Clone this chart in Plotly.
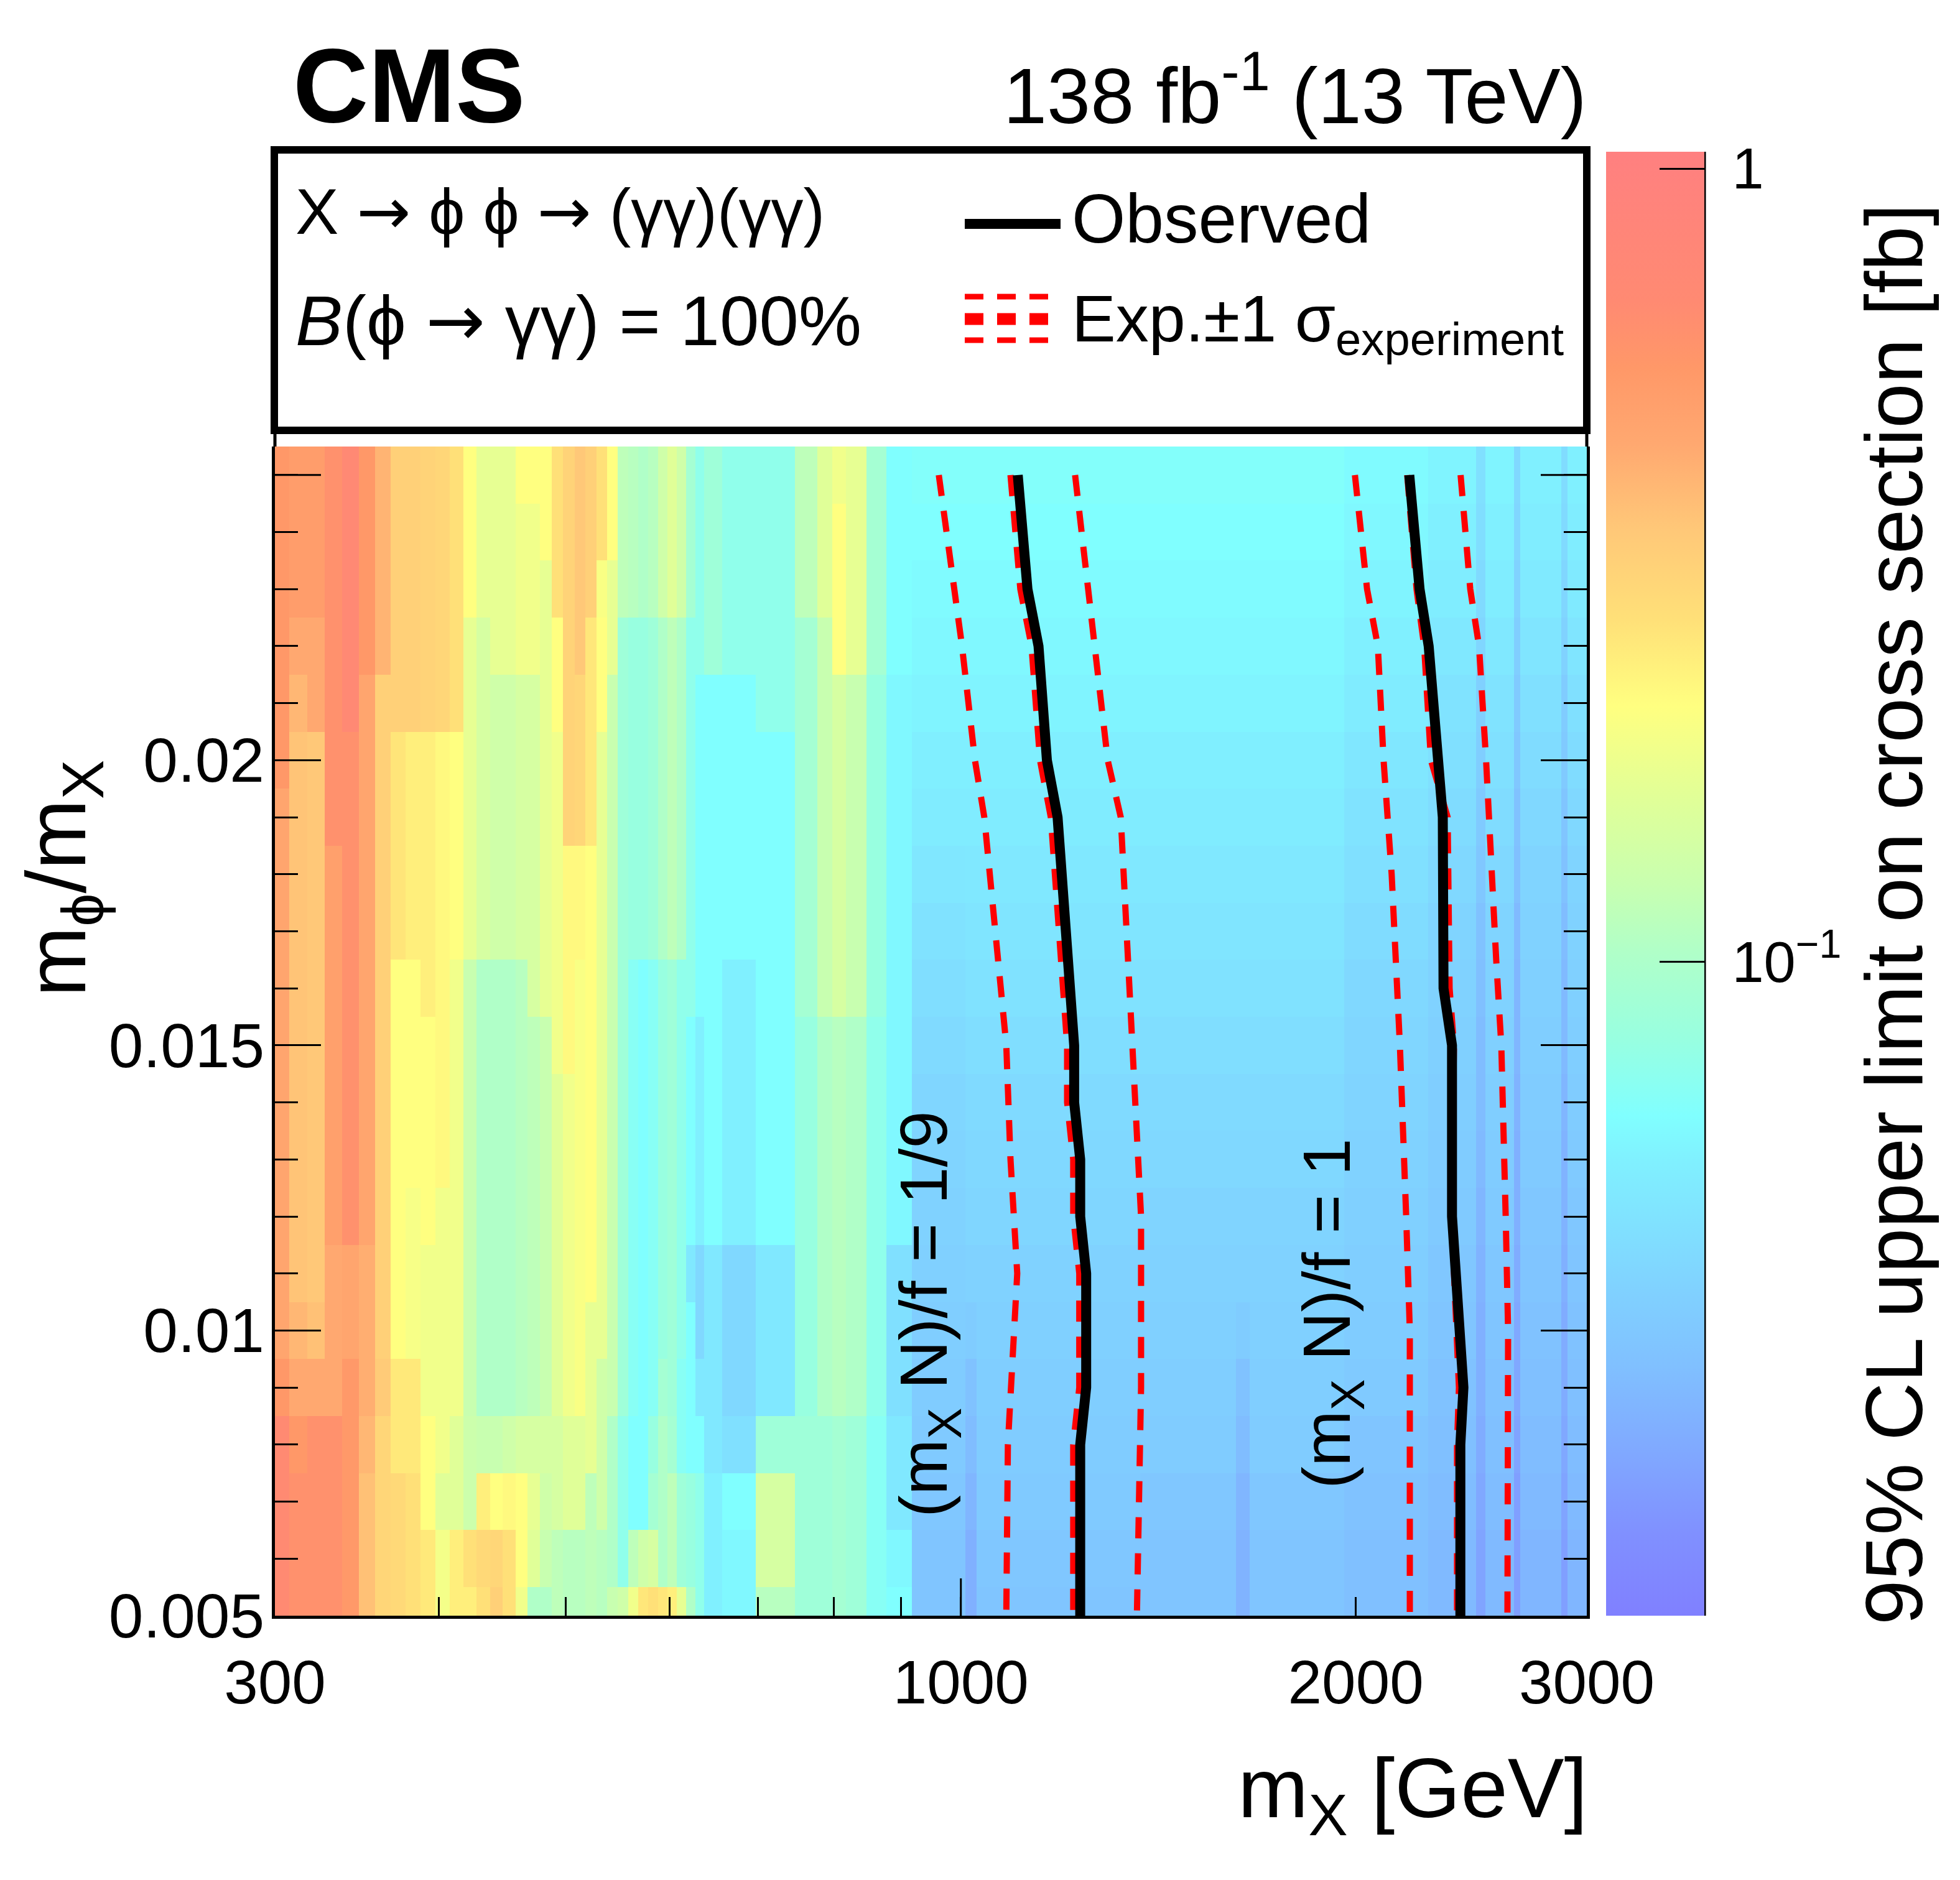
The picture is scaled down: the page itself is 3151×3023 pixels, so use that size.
import math
import plotly.graph_objects as go

# ---------------------------------------------------------------- layout (px)
W, H = 3151, 3023
X0, X1, Y0, Y1 = 442, 2551, 718, 2598   # plot area in pixels
FONT = "Liberation Sans, Arial, Helvetica, sans-serif"


def px(x):
    return (x - X0) / (X1 - X0)


def py(y):
    return (Y1 - y) / (Y1 - Y0)


# ---------------------------------------------------------------- data
# m_phi/m_X bin centres (rows), top row first in the column lists below
ratio_bins = [0.005, 0.006, 0.007, 0.008, 0.009, 0.010, 0.011, 0.012, 0.013, 0.014,
              0.015, 0.016, 0.017, 0.018, 0.019, 0.020, 0.021, 0.022, 0.023, 0.024, 0.025]

# m_X bin edges [GeV]
mx_edges = [300, 307.5, 317.5, 327.5, 337.5, 347.5, 357.5, 367.5, 377.5, 387.5, 397.5,
            407.5, 417.5, 427.5, 437.5, 447.5, 457.5, 467.5, 477.5, 487.5, 497.5,
            507.5, 517.5, 527.5, 537.5, 547.5, 557.5, 567.5, 577.5, 587.5, 597.5,
            607.5, 617.5, 627.5, 637.5, 657.5, 697.5, 747.5, 777.5, 797.5, 817.5,
            847.5, 877.5, 917.5, 1007.5, 1027.5, 1370, 1620, 1660, 1960, 2270, 2470,
            2510, 2640, 2670, 2870, 2900, 3000]

# 95% CL upper limit [fb], one list per m_X bin, rows from m_phi/m_X = 0.025 down to 0.005
limit_columns = [
    [0.56]*6 + [0.47]*10 + [0.56] + [0.68]*4,
    [0.52]*3 + [0.45, 0.40] + [0.36]*10 + [0.40, 0.45, 0.56] + [0.62]*3,
    [0.52]*3 + [0.45]*2 + [0.35]*10 + [0.37, 0.45] + [0.62]*4,
    [0.62]*7 + [0.50]*7 + [0.45]*3 + [0.62]*4,
    [0.72]*5 + [0.62]*9 + [0.47]*2 + [0.55]*5,
    [0.56]*4 + [0.47]*10 + [0.43]*3 + [0.40] + [0.37]*3,
    [0.41]*4 + [0.32]*12 + [0.34] + [0.30]*4,
    [0.32]*5 + [0.26]*4 + [0.21]*7 + [0.25]*2 + [0.29]*3,
    [0.32]*5 + [0.24]*4 + [0.21]*4 + [0.195]*3 + [0.25]*2 + [0.27]*3,
    [0.31]*5 + [0.24]*5 + [0.21]*4 + [0.185]*3 + [0.21]*2 + [0.25]*2,
    [0.30]*5 + [0.22]*8 + [0.185]*5 + [0.16] + [0.19]*2,
    [0.27]*5 + [0.21]*4 + [0.185]*8 + [0.16]*2 + [0.24]*2,
    [0.21]*3 + [0.17]*6 + [0.125]*8 + [0.13]*2 + [0.27] + [0.24],
    [0.17]*3 + [0.145]*6 + [0.103]*8 + [0.125] + [0.24] + [0.29] + [0.27],
    [0.17]*4 + [0.135]*5 + [0.103]*8 + [0.125] + [0.21] + [0.30] + [0.32],
    [0.17]*4 + [0.135]*5 + [0.103]*8 + [0.135] + [0.22] + [0.27] + [0.27],
    [0.21] + [0.185]*3 + [0.145]*5 + [0.11]*8 + [0.145] + [0.21] + [0.21] + [0.185],
    [0.21] + [0.185]*3 + [0.145]*6 + [0.115]*7 + [0.145] + [0.17] + [0.16] + [0.103],
    [0.21]*2 + [0.17]*8 + [0.125]*7 + [0.145] + [0.135] + [0.125] + [0.103],
    [0.27]*3 + [0.21]*2 + [0.185]*6 + [0.16]*6 + [0.145]*2 + [0.115]*2,
    [0.31]*7 + [0.22]*4 + [0.185]*6 + [0.16]*2 + [0.11]*2,
    [0.35]*4 + [0.30]*3 + [0.22]*2 + [0.20]*8 + [0.16]*2 + [0.11]*2,
    [0.32]*3 + [0.255]*4 + [0.21]*8 + [0.17]*3 + [0.115]*3,
    [0.27]*2 + [0.20] + [0.21]*2 + [0.17]*11 + [0.135]*3 + [0.11]*2,
    [0.21]*2 + [0.17]*2 + [0.125]*13 + [0.103]*3 + [0.125],
    [0.115]*3 + [0.086]*14 + [0.074]*3 + [0.135],
    [0.11]*3 + [0.08]*6 + [0.069]*8 + [0.064]*2 + [0.115] + [0.185],
    [0.103]*3 + [0.08]*6 + [0.064]*10 + [0.135] + [0.255],
    [0.11]*3 + [0.086]*6 + [0.069]*8 + [0.08] + [0.092] + [0.145] + [0.27],
    [0.135]*3 + [0.103]*6 + [0.08]*7 + [0.092] + [0.103]*3 + [0.255],
    [0.16]*3 + [0.115]*6 + [0.086]*8 + [0.092] + [0.115]*2 + [0.24],
    [0.135]*3 + [0.103]*6 + [0.074]*7 + [0.069]*2 + [0.086]*2 + [0.17],
    [0.092]*3 + [0.074]*7 + [0.064]*4 + [0.051] + [0.064]*3 + [0.08]*2 + [0.103],
    [0.074]*4 + [0.064]*6 + [0.056]*4 + [0.042]*2 + [0.051] + [0.064] + [0.074]*3,
    [0.086]*4 + [0.064]*10 + [0.051]*4 + [0.056]*3,
    [0.074]*4 + [0.064]*5 + [0.056]*5 + [0.042]*3 + [0.046] + [0.064] + [0.060]*2,
    [0.074]*5 + [0.064]*9 + [0.051]*3 + [0.086] + [0.145]*2 + [0.11],
    [0.115]*3 + [0.092]*7 + [0.08]*7 + [0.086]*4,
    [0.16]*3 + [0.125]*7 + [0.103]*7 + [0.086]*4,
    [0.185] + [0.21]*3 + [0.145]*6 + [0.11]*7 + [0.092]*4,
    [0.17]*4 + [0.125]*6 + [0.103]*7 + [0.086]*4,
    [0.092]*4 + [0.08]*6 + [0.074]*7 + [0.069]*4,
    [0.064]*4 + [0.060]*10 + [0.046]*3 + [0.051]*2 + [0.060] + [0.064],
    # 917.5 - 1007.5
    [0.066, 0.064, 0.062, 0.060, 0.058, 0.055, 0.053, 0.050, 0.047, 0.045, 0.043,
     0.041, 0.040, 0.039, 0.038, 0.037, 0.036, 0.035, 0.034, 0.033, 0.033],
    # 1007.5 - 1027.5
    [0.066, 0.064, 0.062, 0.060, 0.058, 0.055, 0.053, 0.051, 0.049, 0.047, 0.045,
     0.043, 0.042, 0.041, 0.039, 0.036, 0.032, 0.030, 0.028, 0.026, 0.026],
    # 1027.5 - 1370
    [0.066, 0.064, 0.062, 0.060, 0.058, 0.055, 0.053, 0.051, 0.049, 0.047, 0.045,
     0.043, 0.042, 0.041, 0.039, 0.038, 0.037, 0.036, 0.035, 0.034, 0.033],
    # 1370 - 1620
    [0.066, 0.064, 0.062, 0.060, 0.058, 0.055, 0.053, 0.051, 0.049, 0.047, 0.045,
     0.043, 0.042, 0.040, 0.039, 0.038, 0.037, 0.036, 0.034, 0.033, 0.033],
    # 1620 - 1660
    [0.066, 0.064, 0.062, 0.060, 0.058, 0.055, 0.053, 0.051, 0.049, 0.047, 0.045,
     0.043, 0.042, 0.040, 0.039, 0.036, 0.032, 0.030, 0.028, 0.027, 0.027],
    # 1660 - 1960
    [0.066, 0.064, 0.062, 0.060, 0.058, 0.055, 0.053, 0.051, 0.049, 0.047, 0.045,
     0.043, 0.042, 0.040, 0.039, 0.038, 0.037, 0.036, 0.034, 0.033, 0.033],
    # 1960 - 2270
    [0.062, 0.060, 0.058, 0.056, 0.053, 0.050, 0.048, 0.046, 0.044, 0.042, 0.041,
     0.040, 0.039, 0.038, 0.037, 0.036, 0.035, 0.033, 0.032, 0.031, 0.031],
    # 2270 - 2470
    [0.058, 0.056, 0.054, 0.051, 0.048, 0.046, 0.044, 0.042, 0.040, 0.039, 0.038,
     0.037, 0.036, 0.035, 0.034, 0.033, 0.032, 0.031, 0.030, 0.029, 0.029],
    # 2470 - 2510
    [0.046, 0.045, 0.043, 0.041, 0.038, 0.037, 0.035, 0.034, 0.032, 0.031, 0.030,
     0.030, 0.029, 0.028, 0.027, 0.026, 0.026, 0.025, 0.024, 0.023, 0.023],
    # 2510 - 2640
    [0.058, 0.056, 0.054, 0.051, 0.048, 0.046, 0.044, 0.042, 0.040, 0.039, 0.038,
     0.037, 0.036, 0.035, 0.034, 0.033, 0.032, 0.031, 0.030, 0.029, 0.029],
    # 2640 - 2670
    [0.042, 0.041, 0.039, 0.037, 0.035, 0.034, 0.032, 0.031, 0.029, 0.028, 0.028,
     0.027, 0.026, 0.026, 0.025, 0.024, 0.024, 0.023, 0.022, 0.022, 0.022],
    # 2670 - 2870
    [0.056, 0.054, 0.052, 0.049, 0.046, 0.044, 0.042, 0.040, 0.039, 0.038, 0.037,
     0.036, 0.035, 0.034, 0.033, 0.032, 0.031, 0.030, 0.029, 0.028, 0.028],
    # 2870 - 2900
    [0.044, 0.043, 0.041, 0.039, 0.036, 0.035, 0.033, 0.032, 0.030, 0.029, 0.029,
     0.028, 0.027, 0.027, 0.026, 0.025, 0.025, 0.024, 0.023, 0.022, 0.022],
    # 2900 - 3000
    [0.056, 0.054, 0.052, 0.049, 0.046, 0.044, 0.042, 0.040, 0.039, 0.038, 0.037,
     0.036, 0.035, 0.034, 0.033, 0.032, 0.031, 0.030, 0.029, 0.028, 0.028],
]

# exclusion contours (m_X [GeV], m_phi/m_X)
obs1_mx = [1105, 1124, 1146, 1163, 1185, 1220, 1220, 1233, 1233, 1246, 1246, 1233, 1233]
obs1_r = [0.025, 0.023, 0.022, 0.020, 0.019, 0.015, 0.014, 0.013, 0.012, 0.011, 0.009, 0.008, 0.005]
exp1_mx = [1091, 1110, 1132, 1149, 1171, 1205, 1205, 1218, 1218, 1231, 1231, 1218, 1218]
exp1_r = obs1_r
lo1_mx = [962, 987, 1002, 1025, 1042, 1083, 1091, 1104, 1090, 1086, 1083]
lo1_r = [0.025, 0.023, 0.022, 0.020, 0.019, 0.015, 0.013, 0.011, 0.009, 0.008, 0.005]
hi1_mx = [1222, 1250, 1282, 1294, 1324, 1350, 1372, 1372, 1362]
hi1_r = [0.025, 0.023, 0.021, 0.020, 0.019, 0.015, 0.012, 0.009, 0.005]

obs2_mx = [2197, 2237, 2273, 2330, 2333, 2368, 2368, 2416, 2403, 2403]
obs2_r = [0.025, 0.023, 0.022, 0.019, 0.016, 0.015, 0.012, 0.009, 0.008, 0.005]
exp2_mx = [2189, 2225, 2255, 2282, 2350, 2358, 2376, 2366, 2397, 2389, 2389]
exp2_r = [0.025, 0.023, 0.022, 0.020, 0.019, 0.016, 0.015, 0.012, 0.009, 0.008, 0.005]
lo2_mx = [1997, 2040, 2079, 2100, 2130, 2161, 2185, 2199, 2199]
lo2_r = [0.025, 0.023, 0.022, 0.020, 0.018, 0.015, 0.012, 0.010, 0.005]
hi2_mx = [2404, 2445, 2483, 2514, 2559, 2582, 2602, 2613, 2610]
hi2_r = [0.025, 0.023, 0.022, 0.020, 0.0165, 0.015, 0.012, 0.010, 0.005]

# axis ticks
x_tickvals = [300, 1000, 2000, 3000]
x_ticktext = ["300", "1000", "2000", "3000"]
x_minor = [400, 500, 600, 700, 800, 900]
y_tickvals = [0.005, 0.010, 0.015, 0.020]
y_ticktext = ["0.005", "0.01", "0.015", "0.02"]
y_minor = [0.006, 0.007, 0.008, 0.009, 0.011, 0.012, 0.013, 0.014, 0.016, 0.017,
           0.018, 0.019, 0.021, 0.022, 0.023, 0.024, 0.025]
y_long_unlabelled = [0.025]
cb_major = [0.1, 1.0]
cb_major_text = ["\u00a010<sup>\u22121</sup>", "\u00a01"]
cb_minor = [0.02, 0.03, 0.04, 0.05, 0.06, 0.07, 0.08, 0.09,
            0.2, 0.3, 0.4, 0.5, 0.6, 0.7, 0.8, 0.9]

# colour palette (value [fb] -> colour)
cs_values = [0.015, 0.019, 0.024, 0.031, 0.038, 0.046, 0.056, 0.064, 0.08, 0.103,
             0.125, 0.16, 0.21, 0.27, 0.35, 0.45, 0.56, 0.68, 1.05]
cs_colors = ["#8080FF", "#8090FF", "#80A8FF", "#80C0FF", "#80D0FF", "#80E0FF",
             "#80F0FF", "#80FFFF", "#98FFE0", "#B0FFC8", "#C8FFB0", "#E0FF98",
             "#FFFF80", "#FFE078", "#FFC878", "#FFA870", "#FF9868", "#FF8A72", "#FF8080"]

ZMIN, ZMAX = math.log10(0.015), math.log10(1.05)
CB_TOP, CB_LEN = 244, 2354          # colour bar pixel extent
CB_LEFT, CB_RIGHT = 2582, 2740

# ---------------------------------------------------------------- build
colorscale = [[(math.log10(v) - ZMIN) / (ZMAX - ZMIN), c] for v, c in zip(cs_values, cs_colors)]
colorscale[0][0] = 0.0
colorscale[-1][0] = 1.0

nrow = len(ratio_bins)
z = []
for irow in range(nrow):            # irow 0 -> 0.005 (bottom)
    src = nrow - 1 - irow
    z.append([math.log10(col[src]) for col in limit_columns])

fig = go.Figure()

fig.add_trace(go.Heatmap(
    x=mx_edges, y=ratio_bins, z=z,
    colorscale=colorscale, zmin=ZMIN, zmax=ZMAX, zsmooth=False,
    hoverinfo="skip",
    colorbar=dict(
        thickness=CB_RIGHT - CB_LEFT, thicknessmode="pixels",
        len=CB_LEN, lenmode="pixels",
        x=px(CB_LEFT), xanchor="left", y=0, yanchor="bottom",
        xpad=0, ypad=0, outlinewidth=0,
        tickmode="array", tickvals=[math.log10(v) for v in cb_major], ticktext=cb_major_text,
        ticks="inside", ticklen=72, tickwidth=3, tickcolor="black",
        tickfont=dict(size=92, family=FONT, color="black"),
    ),
))

dash_style = "34px,24px"
for xs, ys in [(lo1_mx, lo1_r), (hi1_mx, hi1_r), (exp1_mx, exp1_r),
               (lo2_mx, lo2_r), (hi2_mx, hi2_r), (exp2_mx, exp2_r)]:
    fig.add_trace(go.Scatter(x=xs, y=ys, mode="lines", hoverinfo="skip", showlegend=False,
                             line=dict(color="#FF0000", width=10, dash=dash_style)))
for xs, ys in [(obs1_mx, obs1_r), (obs2_mx, obs2_r)]:
    fig.add_trace(go.Scatter(x=xs, y=ys, mode="lines", hoverinfo="skip", showlegend=False,
                             line=dict(color="black", width=16)))

fig.update_layout(
    width=W, height=H,
    margin=dict(l=X0, r=W - X1, t=Y0, b=H - Y1, pad=0),
    paper_bgcolor="white", plot_bgcolor="white",
    showlegend=False,
    font=dict(family=FONT, color="black"),
    xaxis=dict(
        type="log", range=[math.log10(300), math.log10(3000)],
        showgrid=False, zeroline=False,
        showline=True, linecolor="black", linewidth=5, mirror=False,
        ticks="inside", ticklen=30, tickwidth=3, tickcolor="black",
        tickmode="array", tickvals=x_tickvals, ticktext=x_ticktext,
        tickfont=dict(size=98, family=FONT, color="black"),
        ticklabelstandoff=18,
        minor=dict(tickmode="array", tickvals=x_minor, ticks="inside", ticklen=30,
                   tickwidth=3, tickcolor="black", showgrid=False),
    ),
    yaxis=dict(
        range=[0.005, 0.0255],
        showgrid=False, zeroline=False,
        showline=True, linecolor="black", linewidth=5, mirror="ticks",
        ticks="inside", ticklen=74, tickwidth=3, tickcolor="black",
        tickmode="array", tickvals=y_tickvals, ticktext=y_ticktext,
        tickfont=dict(size=100, family=FONT, color="black"),
        ticklabelstandoff=-8,
        minor=dict(tickmode="array", tickvals=y_minor, ticks="inside", ticklen=37,
                   tickwidth=3, tickcolor="black", showgrid=False),
    ),
)

shapes = []
# frame continuation between heatmap top and legend box
shapes.append(dict(type="line", xref="paper", yref="paper", x0=px(X0), x1=px(X0),
                   y0=py(Y0), y1=py(690), line=dict(color="black", width=5)))
shapes.append(dict(type="line", xref="paper", yref="paper", x0=px(X1), x1=px(X1),
                   y0=py(Y0), y1=py(690), line=dict(color="black", width=5)))
# long tick at 1000 GeV
shapes.append(dict(type="line", xref="x", yref="paper", x0=1000, x1=1000,
                   y0=0, y1=py(Y1 - 60), line=dict(color="black", width=3)))
# long (unlabelled) y ticks on both sides
for v in y_long_unlabelled:
    shapes.append(dict(type="line", xref="paper", yref="y", x0=0, x1=px(X0 + 74),
                       y0=v, y1=v, line=dict(color="black", width=3)))
    shapes.append(dict(type="line", xref="paper", yref="y", x0=px(X1 - 74), x1=1,
                       y0=v, y1=v, line=dict(color="black", width=3)))
# legend box
shapes.append(dict(type="rect", xref="paper", yref="paper", x0=px(441), x1=px(2551),
                   y0=py(692), y1=py(241), line=dict(color="black", width=12),
                   fillcolor="white"))
# legend symbols
shapes.append(dict(type="line", xref="paper", yref="paper", x0=px(1551), x1=px(1705),
                   y0=py(360), y1=py(360), line=dict(color="black", width=16)))
for yy, ww in [(477, 9), (513, 19), (547, 9)]:
    shapes.append(dict(type="line", xref="paper", yref="paper", x0=px(1551), x1=px(1688),
                       y0=py(yy), y1=py(yy), line=dict(color="#FF0000", width=ww, dash="30px,22px")))
# colour bar right edge and minor ticks on the colour-bar log scale
shapes.append(dict(type="line", xref="paper", yref="paper", x0=px(CB_RIGHT), x1=px(CB_RIGHT),
                   y0=py(CB_TOP), y1=py(CB_TOP + CB_LEN), line=dict(color="black", width=5)))
for v in cb_minor:
    ypix = CB_TOP + (ZMAX - math.log10(v)) / (ZMAX - ZMIN) * CB_LEN
    shapes.append(dict(type="line", xref="paper", yref="paper", x0=px(CB_RIGHT - 35), x1=px(CB_RIGHT),
                       y0=py(ypix), y1=py(ypix), line=dict(color="black", width=3)))
fig.update_layout(shapes=shapes)


def ann(text, x, y, size, xanchor="left", yanchor="middle", angle=0):
    fig.add_annotation(text=text, xref="paper", yref="paper", x=px(x), y=py(y),
                       xanchor=xanchor, yanchor=yanchor, showarrow=False, textangle=angle,
                       font=dict(size=size, family=FONT, color="black"), borderpad=0)


ARR = '<span style="font-family:DejaVu Sans">\u2192</span>'
ann("<b>CMS</b>", 470, 138, 168)
ann("138 fb<sup>-1</sup> (13 TeV)", 2552, 145, 126, xanchor="right")
ann("X " + ARR + " \u03d5 \u03d5 " + ARR + " (\u03b3\u03b3)(\u03b3\u03b3)", 474, 340, 104)
ann("<i>B</i>(\u03d5 " + ARR + " \u03b3\u03b3) = 100%", 474, 515, 114)
ann("Observed", 1722, 352, 111)
ann("Exp.\u00b11 \u03c3<sub>experiment</sub>", 1722, 520, 106)
ann("m<sub>X</sub> [GeV]", 2553, 2885, 136, xanchor="right")
ann("m<sub>\u03d5</sub>/m<sub>X</sub>", 100, 1413, 136, xanchor="center", angle=-90)
ann("95% CL upper limit on cross section [fb]", 3045, 1470, 130, xanchor="center", angle=-90)
ann("(m<sub>X</sub> N)/f = 1/9", 1492, 2113, 108, xanchor="center", angle=-90)
ann("(m<sub>X</sub> N)/f = 1", 2140, 2113, 108, xanchor="center", angle=-90)

fig.write_html("out.html")
